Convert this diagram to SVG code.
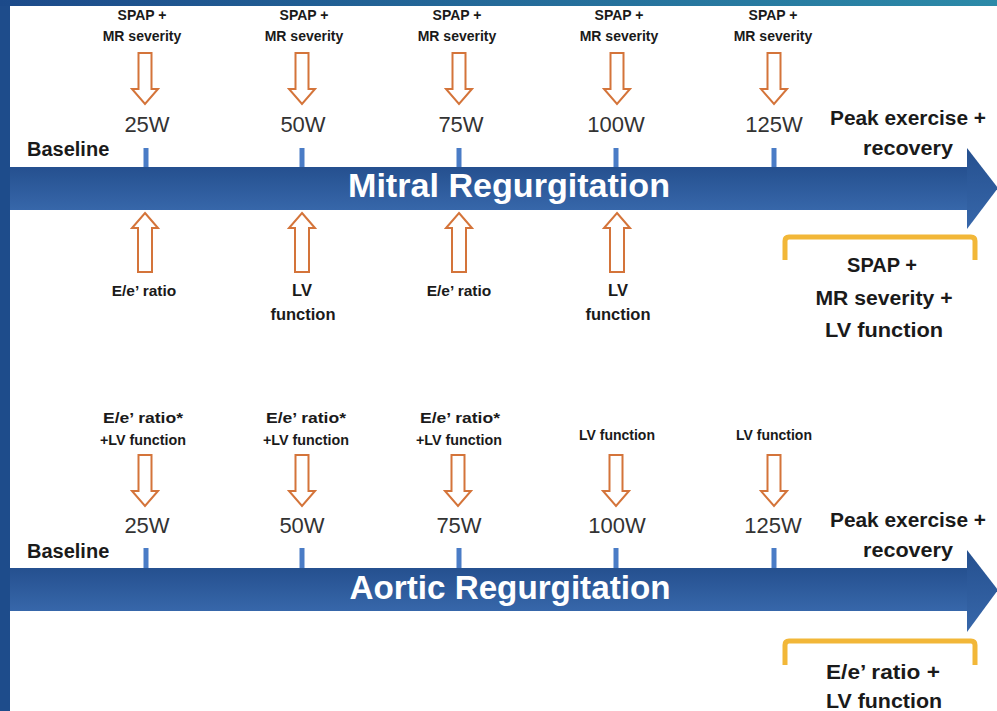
<svg xmlns="http://www.w3.org/2000/svg" xmlns:xlink="http://www.w3.org/1999/xlink" width="997" height="711" viewBox="0 0 997 711">
  <defs>
    <linearGradient id="topbar" x1="0" y1="0" x2="1" y2="0">
      <stop offset="0" stop-color="#1c4a8a"/>
      <stop offset="1" stop-color="#2c8aa8"/>
    </linearGradient>
    <linearGradient id="band" x1="0" y1="0" x2="0" y2="1">
      <stop offset="0" stop-color="#25508f"/>
      <stop offset="1" stop-color="#3767aa"/>
    </linearGradient>
    <path id="downArrow" d="M-6.5,0 H6.5 V36 H13 L0,51 L-13,36 H-6.5 Z"/>
    <path id="upArrow" d="M0,0 L13,15 H7 V59 H-7 V15 H-13 Z"/>
    <style>
      .lbl { font-family: "Liberation Sans", Arial, sans-serif; font-weight: bold; fill: #1a1a1a; text-anchor: middle; }
      .s14 { font-size: 14px; }
      .s15 { font-size: 15px; }
      .s155 { font-size: 15.5px; }
      .s16 { font-size: 16.5px; }
      .s20 { font-size: 20px; }
      .s21 { font-size: 21px; }
      .watt { font-family: "Liberation Sans", Arial, sans-serif; font-size: 22px; fill: #333333; text-anchor: middle; }
      .title { font-family: "Liberation Sans", Arial, sans-serif; font-weight: bold; font-size: 34px; fill: #ffffff; text-anchor: middle; }
      .tick { fill: #4a7cc6; }
      .blk { fill: #ffffff; stroke: #d4743a; stroke-width: 2; stroke-linejoin: miter; }
      .brk { fill: none; stroke: #f2b738; stroke-width: 5; stroke-linejoin: round; }
    </style>
  </defs>

  <!-- background frame -->
  <rect x="0" y="0" width="997" height="711" fill="#ffffff"/>
  <rect x="0" y="0" width="10" height="711" fill="#1e4c8b"/>
  <rect x="0" y="0" width="997" height="6" fill="url(#topbar)"/>

  <!-- ===== Mitral section ===== -->
  <g id="mr-timeline">
    <rect x="10" y="167" width="958" height="43" fill="url(#band)"/>
    <polygon points="967,148 998,188 967,229" fill="url(#band)"/>
    <text class="title" x="509" y="197" textLength="322" lengthAdjust="spacingAndGlyphs">Mitral Regurgitation</text>
  </g>
  <g id="mr-ticks">
    <rect class="tick" x="143.5" y="148" width="5" height="19"/>
    <rect class="tick" x="299.5" y="148" width="5" height="19"/>
    <rect class="tick" x="456.5" y="148" width="5" height="19"/>
    <rect class="tick" x="613.5" y="148" width="5" height="19"/>
    <rect class="tick" x="771.5" y="148" width="5" height="19"/>
  </g>
  <g id="mr-baseline"><text class="lbl s20" x="27" y="156" style="text-anchor:start">Baseline</text></g>
  <g id="mr-25w"><text class="watt" x="147" y="132">25W</text></g>
  <g id="mr-50w"><text class="watt" x="303" y="132">50W</text></g>
  <g id="mr-75w"><text class="watt" x="461" y="132">75W</text></g>
  <g id="mr-100w"><text class="watt" x="616" y="132">100W</text></g>
  <g id="mr-125w"><text class="watt" x="774" y="132">125W</text></g>
  <g id="mr-peak">
    <text class="lbl s20" x="908" y="125" textLength="156" lengthAdjust="spacingAndGlyphs">Peak exercise +</text>
    <text class="lbl s20" x="908" y="155" textLength="90" lengthAdjust="spacingAndGlyphs">recovery</text>
  </g>
  <g id="mr-top-1"><text class="lbl s14" x="142" y="20">SPAP +</text><text class="lbl s14" x="142" y="41">MR severity</text></g>
  <g id="mr-top-2"><text class="lbl s14" x="304" y="20">SPAP +</text><text class="lbl s14" x="304" y="41">MR severity</text></g>
  <g id="mr-top-3"><text class="lbl s14" x="457" y="20">SPAP +</text><text class="lbl s14" x="457" y="41">MR severity</text></g>
  <g id="mr-top-4"><text class="lbl s14" x="619" y="20">SPAP +</text><text class="lbl s14" x="619" y="41">MR severity</text></g>
  <g id="mr-top-5"><text class="lbl s14" x="773" y="20">SPAP +</text><text class="lbl s14" x="773" y="41">MR severity</text></g>
  <g id="mr-bot-1"><text class="lbl s155" x="144" y="296">E/e’ ratio</text></g>
  <g id="mr-bot-2"><text class="lbl s16" x="302" y="296">LV</text><text class="lbl s16" x="303" y="320">function</text></g>
  <g id="mr-bot-3"><text class="lbl s155" x="459" y="296">E/e’ ratio</text></g>
  <g id="mr-bot-4"><text class="lbl s16" x="618" y="296">LV</text><text class="lbl s16" x="618" y="320">function</text></g>
  <g id="mr-peak-measures">
    <path class="brk" d="M785,260 V241 Q785,237 789,237 H971 Q975,237 975,241 V260"/>
    <text class="lbl s20" x="882" y="272">SPAP +</text>
    <text class="lbl s20" x="884" y="305" textLength="137" lengthAdjust="spacingAndGlyphs">MR severity +</text>
    <text class="lbl s21" x="884" y="337" textLength="118" lengthAdjust="spacingAndGlyphs">LV function</text>
  </g>

  <!-- ===== Aortic section ===== -->
  <g id="ar-timeline">
    <rect x="10" y="568" width="958" height="43" fill="url(#band)"/>
    <polygon points="967,550 998,590 967,632" fill="url(#band)"/>
    <text class="title" x="510" y="599" textLength="321" lengthAdjust="spacingAndGlyphs">Aortic Regurgitation</text>
  </g>
  <g id="ar-ticks">
    <rect class="tick" x="143.5" y="548" width="5" height="20"/>
    <rect class="tick" x="299.5" y="548" width="5" height="20"/>
    <rect class="tick" x="456.5" y="548" width="5" height="20"/>
    <rect class="tick" x="613.5" y="548" width="5" height="20"/>
    <rect class="tick" x="771.5" y="548" width="5" height="20"/>
  </g>
  <g id="ar-baseline"><text class="lbl s20" x="27" y="558" style="text-anchor:start">Baseline</text></g>
  <g id="ar-25w"><text class="watt" x="147" y="533">25W</text></g>
  <g id="ar-50w"><text class="watt" x="302" y="533">50W</text></g>
  <g id="ar-75w"><text class="watt" x="459" y="533">75W</text></g>
  <g id="ar-100w"><text class="watt" x="617" y="533">100W</text></g>
  <g id="ar-125w"><text class="watt" x="773" y="533">125W</text></g>
  <g id="ar-peak">
    <text class="lbl s20" x="908" y="527" textLength="156" lengthAdjust="spacingAndGlyphs">Peak exercise +</text>
    <text class="lbl s20" x="908" y="557" textLength="90" lengthAdjust="spacingAndGlyphs">recovery</text>
  </g>
  <g id="ar-top-1"><text class="lbl s15" x="143" y="423" textLength="80" lengthAdjust="spacingAndGlyphs">E/e’ ratio*</text><text class="lbl s15" x="143" y="445" textLength="86" lengthAdjust="spacingAndGlyphs">+LV function</text></g>
  <g id="ar-top-2"><text class="lbl s15" x="306" y="423" textLength="80" lengthAdjust="spacingAndGlyphs">E/e’ ratio*</text><text class="lbl s15" x="306" y="445" textLength="86" lengthAdjust="spacingAndGlyphs">+LV function</text></g>
  <g id="ar-top-3"><text class="lbl s15" x="460" y="423" textLength="80" lengthAdjust="spacingAndGlyphs">E/e’ ratio*</text><text class="lbl s15" x="459" y="445" textLength="86" lengthAdjust="spacingAndGlyphs">+LV function</text></g>
  <g id="ar-top-4"><text class="lbl s14" x="617" y="440">LV function</text></g>
  <g id="ar-top-5"><text class="lbl s14" x="774" y="440">LV function</text></g>
  <g id="ar-peak-measures">
    <path class="brk" d="M785,665 V645 Q785,641 789,641 H971 Q975,641 975,645 V665"/>
    <text class="lbl s21" x="883" y="679" textLength="114" lengthAdjust="spacingAndGlyphs">E/e’ ratio +</text>
    <text class="lbl s21" x="884" y="708" textLength="116" lengthAdjust="spacingAndGlyphs">LV function</text>
  </g>

  <!-- ===== connectors (block arrows) ===== -->
  <g id="connectors">
    <use xlink:href="#downArrow" class="blk" x="145" y="53"/>
    <use xlink:href="#downArrow" class="blk" x="302" y="53"/>
    <use xlink:href="#downArrow" class="blk" x="459" y="53"/>
    <use xlink:href="#downArrow" class="blk" x="617" y="53"/>
    <use xlink:href="#downArrow" class="blk" x="774" y="53"/>
    <use xlink:href="#upArrow" class="blk" x="145" y="213"/>
    <use xlink:href="#upArrow" class="blk" x="302" y="213"/>
    <use xlink:href="#upArrow" class="blk" x="459" y="213"/>
    <use xlink:href="#upArrow" class="blk" x="617" y="213"/>
    <use xlink:href="#downArrow" class="blk" x="145" y="455"/>
    <use xlink:href="#downArrow" class="blk" x="302" y="455"/>
    <use xlink:href="#downArrow" class="blk" x="458" y="455"/>
    <use xlink:href="#downArrow" class="blk" x="616" y="455"/>
    <use xlink:href="#downArrow" class="blk" x="774" y="455"/>
  </g>
</svg>
